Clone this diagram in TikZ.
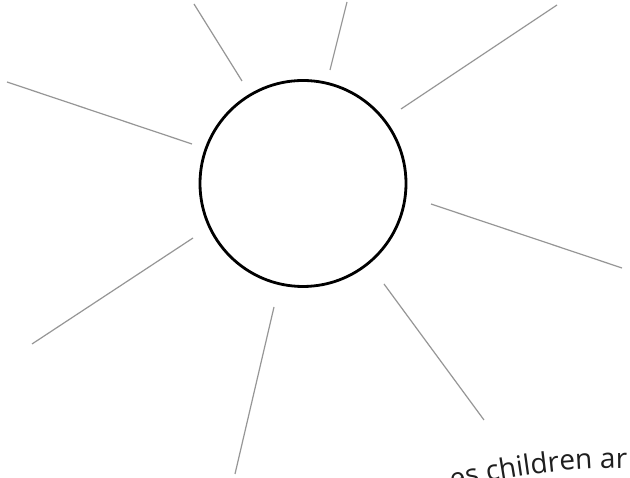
\documentclass[tikz,border=0pt]{standalone}
\usepackage{fontspec}
\newfontfamily\curvefont{Open Sans}
\usetikzlibrary{decorations.text}
\definecolor{raygray}{RGB}{150,150,150}
\definecolor{txtgray}{RGB}{30,30,30}
\tikzset{
  sunbody/.style={circle, draw=black, line width=2.8pt, minimum size=206pt, inner sep=0pt},
  sunray/.style={draw=raygray, line width=1.2pt},
}
\begin{document}
\begin{tikzpicture}[x=1pt,y=1pt]
\useasboundingbox (0,0) rectangle (630,478);
\clip (0,0) rectangle (630,478);
\fill[white] (0,0) rectangle (630,478);
\node[sunbody] (sun) at (303,294.5) {};
% ray end points
\coordinate (r1a) at (242,397); \coordinate (r1b) at (194,474);
\coordinate (r2a) at (330,408); \coordinate (r2b) at (347,476);
\coordinate (r3a) at (401,369); \coordinate (r3b) at (557,473);
\coordinate (r4a) at (192,334); \coordinate (r4b) at (7,396);
\coordinate (r5a) at (431,274); \coordinate (r5b) at (622,210);
\coordinate (r6a) at (193,240); \coordinate (r6b) at (32,134);
\coordinate (r7a) at (384,194); \coordinate (r7b) at (484,58);
\coordinate (r8a) at (274,171); \coordinate (r8b) at (235,4);
\foreach \i in {1,...,8} { \draw[sunray] (r\i a) -- (r\i b); }
% curved text
\coordinate (arcc) at (625,-690);
\path[decorate, decoration={text along path, text color=txtgray,
  text={|\curvefont\fontsize{28}{28}\selectfont|es children ar}}]
  (arcc) ++(104.3:700) arc[start angle=104.3, end angle=78, radius=700];
\end{tikzpicture}
\end{document}
